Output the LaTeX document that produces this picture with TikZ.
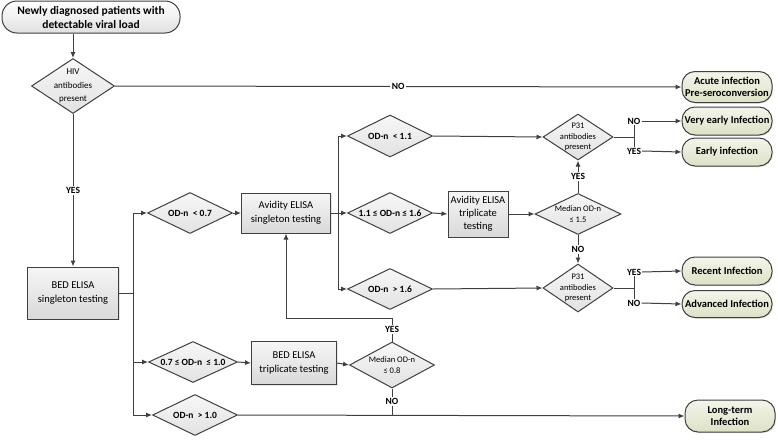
\documentclass[tikz,border=0pt]{standalone}
\usepackage{fontspec}
\setmainfont{Carlito}
\usetikzlibrary{shapes.geometric,arrows.meta,shadows}
\definecolor{ln}{HTML}{404040}
\definecolor{boxtop}{HTML}{F6F6F6}
\definecolor{boxbot}{HTML}{D9D9D9}
\definecolor{diatop}{HTML}{F7F7F7}
\definecolor{diabot}{HTML}{E2E2E2}
\definecolor{outtop}{HTML}{F3F5EA}
\definecolor{outbot}{HTML}{DCE2C6}
\tikzset{
  conn/.style={draw=ln, line width=1pt},
  arr/.style={conn, -{Latex[length=6pt,width=5pt]}},
  startbox/.style={rectangle, rounded corners=15pt, draw=ln, line width=1pt, top color=white, bottom color=boxbot!80, align=center, inner sep=1pt, font=\bfseries\fontsize{11.5}{14}\selectfont},
  procbox/.style={rectangle, draw=ln, line width=1pt, top color=boxtop, bottom color=boxbot, align=center, inner sep=1pt, font=\fontsize{10.5}{13.5}\selectfont, drop shadow={opacity=0.2, shadow xshift=1pt, shadow yshift=-1pt}},
  outbox/.style={rectangle, rounded corners=13pt, draw=ln, line width=1pt, top color=outtop, bottom color=outbot, align=center, inner sep=0pt, minimum width=90pt, font=\bfseries\fontsize{10.5}{12.5}\selectfont, drop shadow={opacity=0.25, shadow xshift=1pt, shadow yshift=-1pt}},
  dia/.style={diamond, draw=ln, line width=1pt, top color=diatop, bottom color=diabot, inner sep=0pt},
  dtxt/.style={align=center, inner sep=0pt, font=\bfseries\fontsize{9.5}{10.5}\selectfont},
  dtxts/.style={align=center, inner sep=0pt, font=\fontsize{8.5}{10.5}\selectfont},
  lbl/.style={fill=white, inner sep=1.5pt, font=\bfseries\fontsize{9.5}{10.5}\selectfont},
  tlbl/.style={inner sep=1pt, font=\bfseries\fontsize{9.5}{10.5}\selectfont},
}
\begin{document}
\begin{tikzpicture}[x=1pt,y=-1pt]
\useasboundingbox[fill=white] (0,0) rectangle (778,439);

% start
\node[startbox, minimum width=178pt, minimum height=32pt] (start) at (91,17) {Newly diagnosed patients with\\detectable viral load};
\node[dia, minimum width=83pt, minimum height=55pt, label={[align=center, inner sep=0pt, font=\fontsize{9}{13.5}\selectfont]center:HIV\\antibodies\\present}] (hiv) at (73,86) {};

% outcomes
\node[outbox, minimum height=31pt] (acute) at (727,87) {Acute infection\\Pre-seroconversion};
\node[outbox, minimum height=28pt] (vearly) at (727,121) {Very early Infection};
\node[outbox, minimum height=28pt] (early) at (727,152) {Early infection};
\node[outbox, minimum height=28pt] (recent) at (727,271) {Recent Infection};
\node[outbox, minimum height=27pt] (adv) at (727,304) {Advanced Infection};
\node[outbox, minimum height=32pt] (lterm) at (730,416) {Long-term\\Infection};

% processes
\node[procbox, minimum width=91pt, minimum height=52pt] (bed1) at (73,293) {BED ELISA\\singleton testing};
\node[procbox, minimum width=89pt, minimum height=40pt] (avs) at (286,213) {Avidity ELISA\\singleton testing};
\node[procbox, minimum width=60pt, minimum height=46pt, font=\fontsize{10.5}{13}\selectfont] (avt) at (478,214) {Avidity ELISA\\triplicate\\testing};
\node[procbox, minimum width=85pt, minimum height=43pt] (bedt) at (294,363) {BED ELISA\\triplicate testing};

% diamonds
\node[dia, minimum width=85pt, minimum height=41pt, label={[dtxt]center:OD-n~~<~0.7}] (d07) at (190,213) {};
\node[dia, minimum width=85pt, minimum height=42pt, label={[dtxt]center:OD-n~~<~1.1}] (d11) at (390,136) {};
\node[dia, minimum width=85pt, minimum height=41pt, label={[dtxt]center:1.1 ≤ OD-n ≤ 1.6}] (d1116) at (390,213) {};
\node[dia, minimum width=85pt, minimum height=41pt, label={[dtxt]center:OD-n~~>~1.6}] (d16) at (390,289) {};
\node[dia, minimum width=89pt, minimum height=41pt, label={[dtxt]center:0.7 ≤ OD-n~~≤ 1.0}] (d0710) at (193,362) {};
\node[dia, minimum width=85pt, minimum height=41pt, label={[dtxt]center:OD-n~~>~1.0}] (d10) at (195,415) {};
\node[dia, minimum width=86pt, minimum height=41pt, label={[dtxts]center:Median OD-n\\≤ 1.5}] (med15) at (578,214) {};
\node[dia, minimum width=85pt, minimum height=46pt, label={[dtxts]center:Median OD-n\\≤ 0.8}] (med08) at (392,365) {};
\node[dia, minimum width=70pt, minimum height=46pt, label={[dtxts]center:P31\\antibodies\\present}] (p31a) at (578,137) {};
\node[dia, minimum width=70pt, minimum height=48pt, label={[dtxts]center:P31\\antibodies\\present}] (p31b) at (578,288) {};

% tee labels
\node[tlbl] (no1) at (634,121) {NO};
\node[tlbl] (yes1) at (634,151) {YES};
\node[tlbl] (yes2) at (634,272) {YES};
\node[tlbl] (no2) at (634,303) {NO};

% junctions
\coordinate (j1) at (133,293);
\coordinate (j2) at (338,213);
\coordinate (j3) at (634,137);
\coordinate (j4) at (634,288);
\coordinate (c1) at (392,318);

% connectors
\draw[arr] (start.south -| hiv.north) -- (hiv.north);
\draw[arr] (hiv.east) -- node[lbl]{NO} (acute.west);
\draw[arr] (hiv.south) -- node[lbl, pos=0.5]{YES} (bed1.north);

\draw[conn] (bed1.east) -- (j1);
\draw[conn] (j1 |- d07.west) -- (j1 |- d10.west);
\draw[arr] (j1 |- d07.west) -- (d07.west);
\draw[arr] (j1 |- d0710.west) -- (d0710.west);
\draw[arr] (j1 |- d10.west) -- (d10.west);

\draw[arr] (d07.east) -- (avs.west);
\draw[conn] (avs.east) -- (j2);
\draw[conn] (j2 |- d11.west) -- (j2 |- d16.west);
\draw[arr] (j2 |- d11.west) -- (d11.west);
\draw[arr] (j2) -- (d1116.west);
\draw[arr] (j2 |- d16.west) -- (d16.west);

\draw[arr] (d11.east) -- (p31a.west);
\draw[arr] (d1116.east) -- (avt.west);
\draw[arr] (avt.east) -- (med15.west);
\draw[arr] (d16.east) -- (p31b.west);
\draw[arr] (med15.north) -- node[lbl]{YES} (p31a.south);
\draw[arr] (med15.south) -- node[lbl]{NO} (p31b.north);

\draw[conn] (p31a.east) -- (j3);
\draw[conn] (no1.south) -- (yes1.north);
\draw[arr] (no1.east) -- (vearly.west);
\draw[arr] (yes1.east) -- (early.west);

\draw[conn] (p31b.east) -- (j4);
\draw[conn] (yes2.south) -- (no2.north);
\draw[arr] (yes2.east) -- (recent.west);
\draw[arr] (no2.east) -- (adv.west);

\draw[arr] (d0710.east) -- (bedt.west);
\draw[arr] (bedt.east) -- (med08.west);
\draw[arr] (med08.north) -- node[lbl]{YES} (c1) -| (avs.south);
\draw[conn] (med08.south) -- node[lbl]{NO} (med08.south |- d10.east);
\draw[arr] (d10.east) -- (lterm.west);
\end{tikzpicture}
\end{document}
